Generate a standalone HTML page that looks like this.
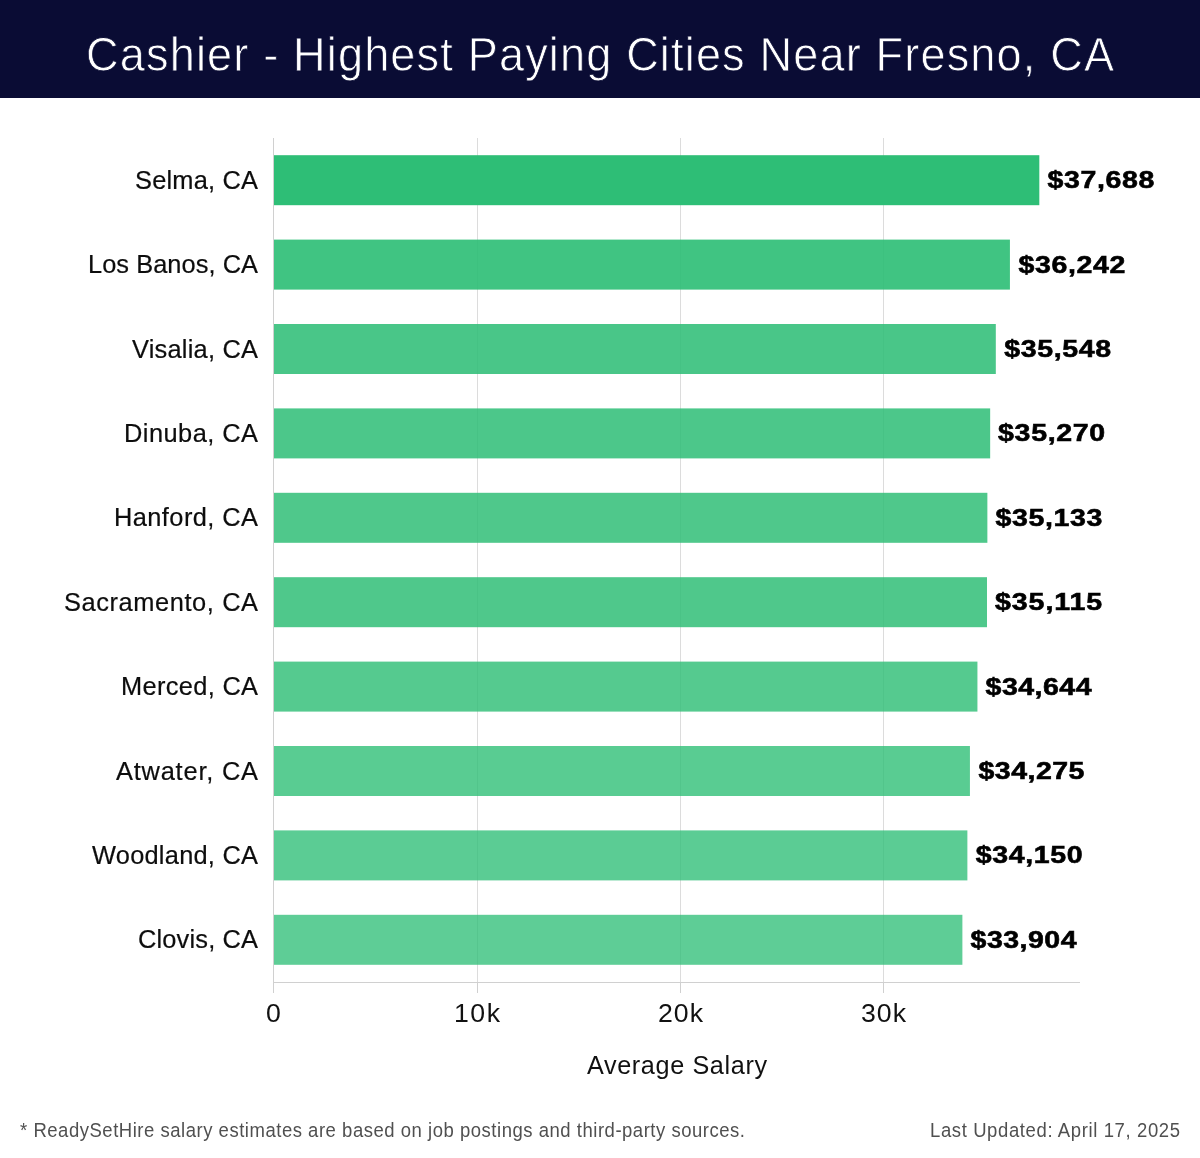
<!DOCTYPE html>
<html>
<head>
<meta charset="utf-8">
<style>
html,body{margin:0;padding:0;background:#fff;}
body{width:1200px;height:1158px;overflow:hidden;position:relative;font-family:"Liberation Sans",sans-serif;}
svg{position:absolute;left:0;top:0;display:block;will-change:transform;}
</style>
</head>
<body>
<svg width="1200" height="1158" viewBox="0 0 1200 1158">
<rect x="0" y="0" width="1200" height="98" fill="#0a0c34"/>
<text transform="translate(86.00 71.00) scale(0.9300 1)" x="0" y="0" font-family="Liberation Sans" font-size="48.50" fill="#fff" stroke="#0a0c34" stroke-width="0.80" textLength="1105.38" lengthAdjust="spacing">Cashier - Highest Paying Cities Near Fresno, CA</text>
<g stroke="#dcdcdc" stroke-width="1" shape-rendering="crispEdges">
<line x1="477.5" y1="138" x2="477.5" y2="982"/>
<line x1="680.5" y1="138" x2="680.5" y2="982"/>
<line x1="883.5" y1="138" x2="883.5" y2="982"/>
</g>
<rect x="273" y="155.20" width="766.32" height="50" fill="rgb(46,190,118)" fill-opacity="1.000"/>
<rect x="273" y="239.60" width="736.92" height="50" fill="rgb(46,190,118)" fill-opacity="0.912"/>
<rect x="273" y="324.00" width="722.81" height="50" fill="rgb(46,190,118)" fill-opacity="0.870"/>
<rect x="273" y="408.40" width="717.16" height="50" fill="rgb(46,190,118)" fill-opacity="0.853"/>
<rect x="273" y="492.80" width="714.37" height="50" fill="rgb(46,190,118)" fill-opacity="0.845"/>
<rect x="273" y="577.20" width="714.00" height="50" fill="rgb(46,190,118)" fill-opacity="0.844"/>
<rect x="273" y="661.60" width="704.43" height="50" fill="rgb(46,190,118)" fill-opacity="0.815"/>
<rect x="273" y="746.00" width="696.92" height="50" fill="rgb(46,190,118)" fill-opacity="0.793"/>
<rect x="273" y="830.40" width="694.38" height="50" fill="rgb(46,190,118)" fill-opacity="0.785"/>
<rect x="273" y="914.80" width="689.38" height="50" fill="rgb(46,190,118)" fill-opacity="0.770"/>
<g stroke="#d0d0d0" stroke-width="1" shape-rendering="crispEdges">
<line x1="273.5" y1="138" x2="273.5" y2="983"/>
<line x1="273" y1="982.5" x2="1080" y2="982.5"/>
<line x1="273.5" y1="982" x2="273.5" y2="993"/>
<line x1="477.5" y1="982" x2="477.5" y2="993"/>
<line x1="680.5" y1="982" x2="680.5" y2="993"/>
<line x1="883.5" y1="982" x2="883.5" y2="993"/>
</g>
<text x="135.00" y="188.80" font-family="Liberation Sans" font-size="25.40" fill="#0d0d0d" stroke="#0d0d0d" stroke-width="0.20" textLength="123.00" lengthAdjust="spacing">Selma, CA</text>
<text x="88.00" y="273.20" font-family="Liberation Sans" font-size="25.40" fill="#0d0d0d" stroke="#0d0d0d" stroke-width="0.20" textLength="170.00" lengthAdjust="spacing">Los Banos, CA</text>
<text x="132.00" y="357.60" font-family="Liberation Sans" font-size="25.40" fill="#0d0d0d" stroke="#0d0d0d" stroke-width="0.20" textLength="126.00" lengthAdjust="spacing">Visalia, CA</text>
<text x="124.00" y="442.00" font-family="Liberation Sans" font-size="25.40" fill="#0d0d0d" stroke="#0d0d0d" stroke-width="0.20" textLength="134.00" lengthAdjust="spacing">Dinuba, CA</text>
<text x="114.00" y="526.40" font-family="Liberation Sans" font-size="25.40" fill="#0d0d0d" stroke="#0d0d0d" stroke-width="0.20" textLength="144.00" lengthAdjust="spacing">Hanford, CA</text>
<text x="64.00" y="610.80" font-family="Liberation Sans" font-size="25.40" fill="#0d0d0d" stroke="#0d0d0d" stroke-width="0.20" textLength="194.00" lengthAdjust="spacing">Sacramento, CA</text>
<text x="121.00" y="695.20" font-family="Liberation Sans" font-size="25.40" fill="#0d0d0d" stroke="#0d0d0d" stroke-width="0.20" textLength="137.00" lengthAdjust="spacing">Merced, CA</text>
<text x="116.00" y="779.60" font-family="Liberation Sans" font-size="25.40" fill="#0d0d0d" stroke="#0d0d0d" stroke-width="0.20" textLength="142.00" lengthAdjust="spacing">Atwater, CA</text>
<text x="92.00" y="864.00" font-family="Liberation Sans" font-size="25.40" fill="#0d0d0d" stroke="#0d0d0d" stroke-width="0.20" textLength="166.00" lengthAdjust="spacing">Woodland, CA</text>
<text x="138.00" y="948.40" font-family="Liberation Sans" font-size="25.40" fill="#0d0d0d" stroke="#0d0d0d" stroke-width="0.20" textLength="120.00" lengthAdjust="spacing">Clovis, CA</text>
<text transform="translate(1047.43 188.20) scale(1.1500 1)" x="0" y="0" font-family="Liberation Sans" font-size="24.80" fill="#000" font-weight="bold" stroke="#000" stroke-width="0.60" textLength="93.04" lengthAdjust="spacing">$37,688</text>
<text transform="translate(1018.39 272.60) scale(1.1500 1)" x="0" y="0" font-family="Liberation Sans" font-size="24.80" fill="#000" font-weight="bold" stroke="#000" stroke-width="0.60" textLength="93.04" lengthAdjust="spacing">$36,242</text>
<text transform="translate(1004.16 357.00) scale(1.1500 1)" x="0" y="0" font-family="Liberation Sans" font-size="24.80" fill="#000" font-weight="bold" stroke="#000" stroke-width="0.60" textLength="93.04" lengthAdjust="spacing">$35,548</text>
<text transform="translate(998.11 441.40) scale(1.1500 1)" x="0" y="0" font-family="Liberation Sans" font-size="24.80" fill="#000" font-weight="bold" stroke="#000" stroke-width="0.60" textLength="93.04" lengthAdjust="spacing">$35,270</text>
<text transform="translate(995.40 525.80) scale(1.1500 1)" x="0" y="0" font-family="Liberation Sans" font-size="24.80" fill="#000" font-weight="bold" stroke="#000" stroke-width="0.60" textLength="93.04" lengthAdjust="spacing">$35,133</text>
<text transform="translate(995.08 610.20) scale(1.1500 1)" x="0" y="0" font-family="Liberation Sans" font-size="24.80" fill="#000" font-weight="bold" stroke="#000" stroke-width="0.60" textLength="93.04" lengthAdjust="spacing">$35,115</text>
<text transform="translate(985.54 694.60) scale(1.1500 1)" x="0" y="0" font-family="Liberation Sans" font-size="24.80" fill="#000" font-weight="bold" stroke="#000" stroke-width="0.60" textLength="92.17" lengthAdjust="spacing">$34,644</text>
<text transform="translate(978.48 779.00) scale(1.1500 1)" x="0" y="0" font-family="Liberation Sans" font-size="24.80" fill="#000" font-weight="bold" stroke="#000" stroke-width="0.60" textLength="92.17" lengthAdjust="spacing">$34,275</text>
<text transform="translate(975.64 863.40) scale(1.1500 1)" x="0" y="0" font-family="Liberation Sans" font-size="24.80" fill="#000" font-weight="bold" stroke="#000" stroke-width="0.60" textLength="93.04" lengthAdjust="spacing">$34,150</text>
<text transform="translate(970.60 947.80) scale(1.1500 1)" x="0" y="0" font-family="Liberation Sans" font-size="24.80" fill="#000" font-weight="bold" stroke="#000" stroke-width="0.60" textLength="92.17" lengthAdjust="spacing">$33,904</text>
<text transform="translate(266.00 1022.00) scale(1.0500 1)" x="0" y="0" font-family="Liberation Sans" font-size="25.40" fill="#111" textLength="21.90" lengthAdjust="spacing">0</text>
<text transform="translate(454.00 1022.00) scale(1.0500 1)" x="0" y="0" font-family="Liberation Sans" font-size="25.40" fill="#111" textLength="43.81" lengthAdjust="spacing">10k</text>
<text transform="translate(658.00 1022.00) scale(1.0500 1)" x="0" y="0" font-family="Liberation Sans" font-size="25.40" fill="#111" textLength="42.86" lengthAdjust="spacing">20k</text>
<text transform="translate(861.00 1022.00) scale(1.0500 1)" x="0" y="0" font-family="Liberation Sans" font-size="25.40" fill="#111" textLength="42.86" lengthAdjust="spacing">30k</text>
<text x="587.00" y="1074.00" font-family="Liberation Sans" font-size="25.20" fill="#111" textLength="180.00" lengthAdjust="spacing">Average Salary</text>
<text transform="translate(20.00 1136.50) scale(0.9500 1)" x="0" y="0" font-family="Liberation Sans" font-size="19.50" fill="#505050" textLength="763.16" lengthAdjust="spacing">* ReadySetHire salary estimates are based on job postings and third-party sources.</text>
<text transform="translate(930.00 1136.50) scale(0.9500 1)" x="0" y="0" font-family="Liberation Sans" font-size="19.50" fill="#505050" textLength="263.16" lengthAdjust="spacing">Last Updated: April 17, 2025</text>
</svg>
</body>
</html>
